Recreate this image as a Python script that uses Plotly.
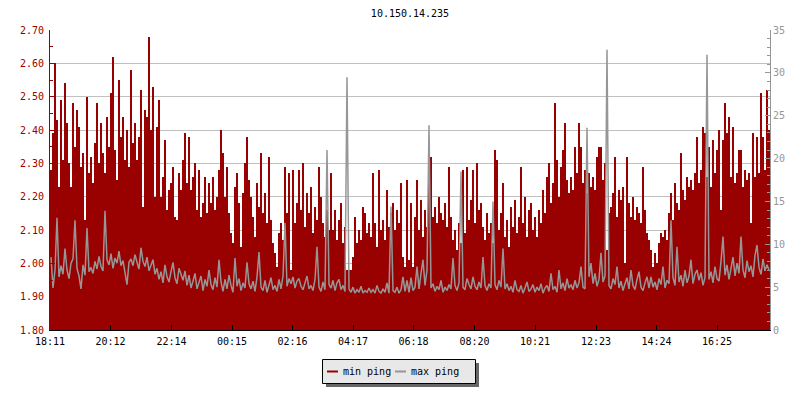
import plotly.graph_objects as go
import pandas as pd

TITLE = "10.150.14.235"
START = "2024-01-01 18:11"
STEP_MIN = 4
TICK_LABELS = ["18:11", "20:12", "22:14", "00:15", "02:16", "04:17",
               "06:18", "08:20", "10:21", "12:23", "14:24", "16:25"]
SERIES_NAMES = ["min ping", "max ping"]

min_ping = [
    2.28, 2.39, 2.60, 2.43, 2.23, 2.49, 2.31, 2.54, 2.42, 2.30, 2.23, 2.48, 2.35, 2.46, 2.41, 2.29, 2.33, 2.13, 2.50, 2.27,
    2.32, 2.24, 2.36, 2.48, 2.30, 2.42, 2.33, 2.27, 2.44, 2.35, 2.51, 2.62, 2.34, 2.25, 2.55, 2.38, 2.44, 2.31, 2.40, 2.29,
    2.58, 2.36, 2.42, 2.31, 2.38, 2.52, 2.17, 2.46, 2.44, 2.68, 2.40, 2.53, 2.20, 2.41, 2.49, 2.20, 2.26, 2.37, 2.16, 2.22,
    2.24, 2.29, 2.14, 2.13, 2.27, 2.22, 2.31, 2.39, 2.24, 2.38, 2.22, 2.26, 2.30, 2.16, 2.28, 2.14, 2.18, 2.26, 2.15, 2.24,
    2.18, 2.26, 2.16, 2.20, 2.28, 2.40, 2.33, 2.20, 2.29, 2.15, 2.09, 2.06, 2.23, 2.27, 2.18, 2.05, 2.21, 2.30, 2.38, 2.25,
    2.20, 2.14, 2.08, 2.24, 2.17, 2.33, 2.15, 2.21, 2.12, 2.32, 2.13, 2.06, 2.03, 1.99, 2.09, 2.12, 2.07, 2.29, 2.15, 2.27,
    1.98, 2.28, 2.12, 2.18, 2.28, 2.16, 2.30, 2.11, 2.21, 2.15, 2.23, 2.09, 2.17, 2.13, 2.29, 2.20, 2.12, 2.08, 2.16, 2.10,
    2.27, 2.10, 2.16, 2.07, 2.13, 2.18, 2.06, 2.11, 1.98, 1.98, 1.98, 2.02, 2.14, 2.06, 2.10, 2.07, 2.17, 2.15, 2.09, 2.12,
    2.08, 2.27, 2.12, 2.05, 2.28, 2.10, 2.13, 2.07, 2.22, 2.11, 2.15, 2.18, 2.10, 2.16, 2.12, 2.24, 2.02, 1.99, 2.25, 2.01,
    2.18, 1.99, 2.14, 2.25, 2.10, 2.19, 2.08, 2.16, 2.11, 2.28, 2.32, 2.14, 2.17, 2.12, 2.20, 2.15, 2.13, 2.18, 2.11, 2.29,
    2.14, 2.07, 2.10, 2.04, 2.12, 2.06, 2.28, 2.09, 2.29, 2.13, 2.19, 2.28, 2.12, 2.30, 2.16, 2.18, 2.11, 2.07, 2.15, 2.09,
    2.12, 2.06, 2.34, 2.31, 2.10, 2.15, 2.24, 2.08, 2.13, 2.05, 2.17, 2.11, 2.19, 2.09, 2.14, 2.29, 2.12, 2.20, 2.08, 2.16,
    2.18, 2.10, 2.14, 2.08, 2.16, 2.12, 2.22, 2.15, 2.26, 2.30, 2.18, 2.24, 2.48, 2.31, 2.20, 2.29, 2.34, 2.42, 2.25, 2.21,
    2.26, 2.22, 2.35, 2.27, 2.42, 2.35, 2.24, 2.28, 2.21, 2.27, 2.23, 2.26, 2.22, 2.32, 2.35, 2.35, 2.25, 2.30, 2.04, 2.15,
    2.17, 2.21, 2.32, 2.14, 2.22, 2.19, 2.23, 2.00, 2.32, 2.18, 2.14, 2.20, 2.13, 2.17, 2.15, 2.12, 2.29, 2.16, 2.09, 2.07,
    2.04, 1.99, 2.03, 2.00, 2.06, 2.09, 2.08, 2.10, 2.07, 2.15, 2.21, 2.13, 2.24, 2.18, 2.16, 2.33, 2.22, 2.19, 2.26, 2.23,
    2.25, 2.22, 2.27, 2.38, 2.24, 2.28, 2.41, 2.39, 2.26, 2.35, 2.23, 2.37, 2.27, 2.34, 2.40, 2.16, 2.37, 2.48, 2.39, 2.44,
    2.26, 2.41, 2.24, 2.27, 2.34, 2.34, 2.23, 2.28, 2.25, 2.27, 2.12, 2.39, 2.26, 2.38, 2.27, 2.51, 2.38, 2.28, 2.52, 2.40,
]

max_ping = [
    8.5, 4.9, 7.0, 13.1, 6.2, 7.5, 6.5, 9.5, 7.0, 6.0, 7.8, 8.3, 12.8, 7.2, 6.3, 4.8, 7.6, 6.4, 11.9, 6.8,
    7.3, 6.6, 8.0, 7.1, 8.6, 7.4, 6.9, 13.9, 8.2, 7.6, 8.9, 7.2, 8.4, 7.8, 9.2, 7.5, 8.1, 6.8, 5.3, 7.9,
    8.3, 7.5, 8.8, 7.9, 7.1, 9.6, 8.0, 7.4, 8.5, 6.9, 7.7, 8.2, 6.5, 7.2, 5.9, 6.8, 5.5, 7.6, 6.2, 5.6,
    6.8, 7.9, 6.1, 5.4, 7.2, 6.5, 5.8, 6.9, 5.2, 6.4, 4.9, 5.7, 6.6, 4.8, 5.5, 6.3, 4.6, 5.9, 5.1, 7.0,
    5.3, 4.7, 6.1, 5.0, 8.2, 5.6, 4.5, 5.9, 4.8, 6.4, 5.2, 4.4, 8.4, 5.1, 6.0, 4.6, 5.5, 4.9, 7.9, 5.4,
    4.8, 5.7, 4.5, 6.2, 9.1, 5.0, 4.6, 5.8, 4.4, 5.3, 6.1, 4.7, 5.2, 4.5, 5.9, 4.8, 6.3, 12.5, 5.1, 6.0,
    5.4, 6.2, 4.9, 5.7, 6.0, 5.1, 4.7, 5.5, 6.3, 4.8, 5.2, 4.6, 5.9, 9.7, 5.0, 4.5, 5.6, 4.7, 21.0, 5.3,
    4.9, 5.8, 4.6, 5.5, 5.9, 4.7, 5.2, 4.5, 29.5, 4.8, 4.4, 5.0, 4.3, 4.7, 4.4, 5.1, 4.3, 4.6, 4.4, 4.9,
    4.4, 4.7, 4.3, 5.2, 4.5, 4.3, 4.8, 4.4, 5.5, 4.3, 14.4, 4.6, 4.4, 5.0, 4.3, 4.7, 6.2, 4.5, 5.8, 4.4,
    6.1, 4.6, 5.0, 7.4, 4.8, 6.6, 8.2, 5.2, 7.0, 23.9, 4.9, 5.4, 4.5, 5.1, 4.7, 5.8, 4.4, 5.0, 4.6, 5.3,
    4.8, 8.4, 5.2, 4.6, 5.5, 18.5, 5.0, 4.7, 6.0, 5.3, 4.8, 6.2, 5.1, 4.7, 5.6, 4.9, 8.5, 5.2, 4.6, 5.4,
    4.9, 15.0, 5.3, 4.7, 5.8, 5.0, 9.5, 4.8, 5.4, 4.6, 5.1, 4.4, 5.8, 4.7, 4.5, 5.2, 4.3, 4.9, 5.6, 4.5,
    4.8, 5.3, 4.4, 5.0, 4.6, 5.4, 4.3, 4.9, 5.2, 4.5, 6.6, 4.7, 5.1, 4.4, 7.0, 4.8, 5.5, 4.6, 6.0, 4.9,
    5.3, 4.7, 5.8, 4.9, 5.5, 7.4, 5.0, 4.8, 23.6, 6.2, 7.8, 5.4, 6.6, 5.1, 5.9, 9.0, 5.6, 6.3, 32.7, 5.2,
    4.8, 6.0, 5.3, 7.4, 4.9, 5.7, 4.6, 5.4, 6.1, 4.8, 7.0, 5.2, 4.7, 5.9, 6.8, 5.0, 4.6, 5.5, 6.2, 4.9,
    6.2, 5.0, 5.6, 4.7, 6.0, 5.3, 7.4, 4.9, 5.8, 5.4, 12.8, 6.1, 5.2, 9.7, 5.6, 6.4, 5.1, 7.0, 5.5, 6.3,
    8.2, 5.4, 6.5, 7.0, 5.8, 6.7, 5.2, 6.1, 32.1, 5.9, 6.8, 5.5, 7.4, 6.0, 5.7, 8.0, 10.9, 6.4, 7.6, 5.9,
    7.2, 8.5, 6.3, 7.8, 6.6, 10.9, 7.0, 6.1, 8.1, 6.8, 7.5, 6.2, 8.7, 9.9, 7.3, 6.5, 8.3, 6.9, 7.6, 7.0,
]

RED = "#990000"
GRAY = "#969696"
FONT = "DejaVu Sans Mono"

n = min(len(min_ping), len(max_ping))
start = pd.Timestamp(START)
step = pd.Timedelta(minutes=STEP_MIN)
times = [start + step * i + step / 2 for i in range(n)]
end = start + step * n

# tick positions from the label texts (rolling over midnight)
tickvals = []
day = 0
prev = None
for lab in TICK_LABELS:
    h, m = map(int, lab.split(":"))
    if prev is not None and (h, m) < prev:
        day += 1
    prev = (h, m)
    tickvals.append(start.normalize() + pd.Timedelta(days=day, hours=h, minutes=m))

fig = go.Figure()
fig.add_trace(go.Bar(
    x=times, y=min_ping[:n], name=SERIES_NAMES[0],
    marker=dict(color=RED, line=dict(width=0)),
    width=STEP_MIN * 60000, showlegend=False,
))
fig.add_trace(go.Scatter(
    x=times, y=max_ping[:n], name=SERIES_NAMES[1], yaxis="y2",
    mode="lines", line=dict(color=GRAY, width=1.5, shape="linear"),
    showlegend=False,
))

L, R, T, B = 50, 770, 30, 330


def px(xp):
    return (xp - L) / (R - L)


def py(yp):
    return (B - yp) / (B - T)


shapes = [
    # legend shadow and box
    dict(type="rect", xref="paper", yref="paper", x0=px(326), x1=px(479), y0=py(363), y1=py(387),
         fillcolor="#666666", line=dict(width=0), layer="above"),
    dict(type="rect", xref="paper", yref="paper", x0=px(322.5), x1=px(475.5), y0=py(359.5), y1=py(383.5),
         fillcolor="#e8e8e8", line=dict(color="black", width=1), layer="above"),
    dict(type="line", xref="paper", yref="paper", x0=px(327), x1=px(338), y0=py(371.5), y1=py(371.5),
         line=dict(color=RED, width=2), layer="above"),
    dict(type="line", xref="paper", yref="paper", x0=px(395), x1=px(406), y0=py(371.5), y1=py(371.5),
         line=dict(color=GRAY, width=2), layer="above"),
]
annotations = [
    dict(text=SERIES_NAMES[0], xref="paper", yref="paper", x=px(341), y=py(371.5),
         xanchor="left", yanchor="middle", showarrow=False,
         font=dict(family=FONT, size=10, color="black")),
    dict(text=SERIES_NAMES[1], xref="paper", yref="paper", x=px(408.5), y=py(371.5),
         xanchor="left", yanchor="middle", showarrow=False,
         font=dict(family=FONT, size=10, color="black")),
]

fig.update_layout(
    width=800, height=400,
    margin=dict(l=L, r=800 - R, t=T, b=400 - B),
    paper_bgcolor="white", plot_bgcolor="white",
    bargap=0, barmode="overlay",
    title=dict(text=TITLE, x=0.5, xref="paper", y=1 - 13 / 400, yanchor="middle", xanchor="center",
               font=dict(family=FONT, size=10, color="black")),
    font=dict(family=FONT, size=10),
    showlegend=False,
    hovermode=False,
    shapes=shapes,
    annotations=annotations,
    xaxis=dict(
        type="date", range=[start, end],
        tickvals=tickvals, ticktext=TICK_LABELS,
        ticks="inside", ticklen=5, tickcolor="black", tickwidth=1,
        showline=True, linecolor="black", linewidth=1,
        showgrid=False, zeroline=False, ticklabelstandoff=2,
        tickfont=dict(family=FONT, size=10, color="black"),
    ),
    yaxis=dict(
        range=[1.8, 2.7], dtick=0.1, tick0=1.8, tickformat=".2f",
        ticks="inside", ticklen=5, tickcolor=RED, tickwidth=1,
        showline=True, linecolor=RED, linewidth=1,
        showgrid=True, gridcolor="#c0c0c0", gridwidth=1, zeroline=False,
        ticklabelstandoff=3,
        minor=dict(dtick=0.05, tick0=1.8, ticks="inside", ticklen=3, tickcolor=RED, showgrid=False),
        tickfont=dict(family=FONT, size=10, color=RED),
    ),
    yaxis2=dict(
        overlaying="y", side="right",
        range=[0, 35], dtick=5, tick0=0,
        ticks="inside", ticklen=5, tickcolor=GRAY, tickwidth=1,
        showline=True, linecolor=GRAY, linewidth=1,
        showgrid=False, zeroline=False,
        minor=dict(dtick=1, tick0=0, ticks="inside", ticklen=3, tickcolor=GRAY, showgrid=False),
        tickfont=dict(family=FONT, size=10, color=GRAY),
    ),
)

POST = (
    "document.body.style.margin='0';document.body.style.padding='0';"
    "var s=document.createElement('style');"
    "s.textContent='.barlayer path {shape-rendering:crispEdges;}';"
    "document.head.appendChild(s);"
)
fig.write_html("out.html", config={"displayModeBar": False, "staticPlot": True}, post_script=POST)
